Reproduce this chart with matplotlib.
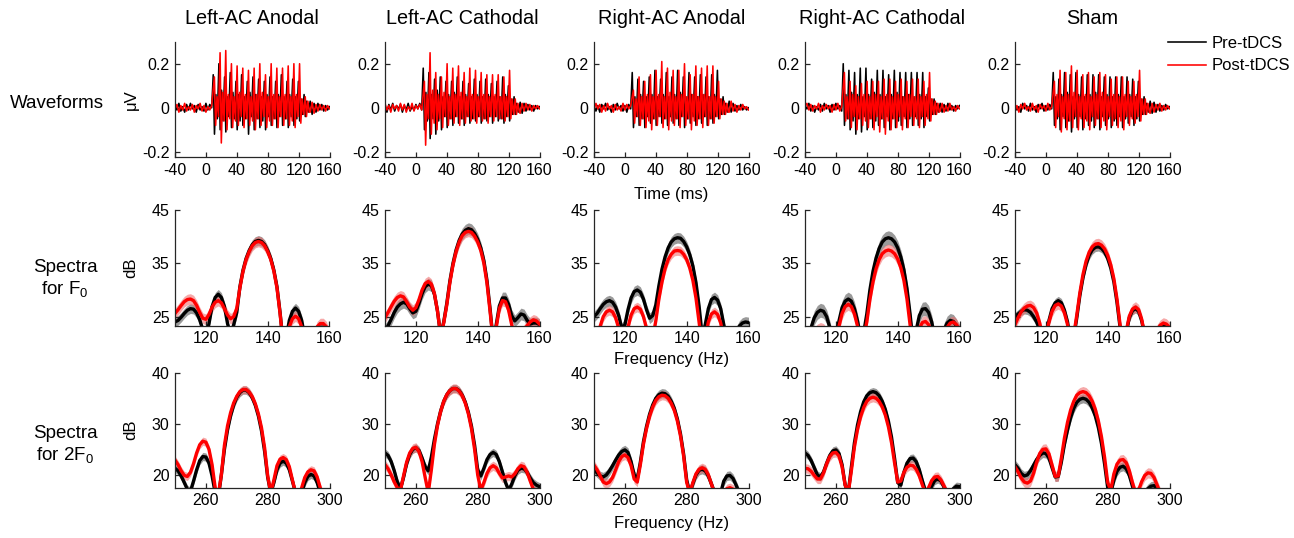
import numpy as np
import matplotlib
matplotlib.use('Agg')
import matplotlib.pyplot as plt

plt.rcParams['font.family'] = ['Liberation Sans', 'DejaVu Sans']
plt.rcParams['axes.unicode_minus'] = False
plt.rcParams['mathtext.fontset'] = 'custom'
plt.rcParams['mathtext.rm'] = 'Liberation Sans'
plt.rcParams['mathtext.it'] = 'Liberation Sans:italic'

conditions = ['Left-AC Anodal', 'Left-AC Cathodal', 'Right-AC Anodal',
              'Right-AC Cathodal', 'Sham']
row_labels = ['Waveforms', 'Spectra\nfor F$_\\mathrm{0}$', 'Spectra\nfor 2F$_\\mathrm{0}$']
legend_labels = ['Pre-tDCS', 'Post-tDCS']

# ---------------- waveform data (µV) ----------------
wave_cycle_ms = 7.35
wave_onset_pre_ms = 9.5
wave_onset_post_ms = 11.0
wave_vertex_offsets_ms = [0.0, 1.6, 3.4, 5.3]
wave_base_on_t = np.arange(-40, 9, 2.5)
wave_base_off_t = np.arange(135, 161, 2.5)

wave_pre_spike = [
    [0.15, 0.20, 0.14, 0.16, 0.12, 0.15, 0.12, 0.14, 0.13, 0.12, 0.14, 0.12, 0.15, 0.12, 0.13, 0.12, 0.06],
    [0.18, 0.16, 0.13, 0.14, 0.12, 0.12, 0.14, 0.12, 0.11, 0.13, 0.12, 0.13, 0.11, 0.12, 0.14, 0.10, 0.05],
    [0.16, 0.13, 0.12, 0.14, 0.17, 0.13, 0.16, 0.14, 0.17, 0.14, 0.16, 0.14, 0.15, 0.14, 0.15, 0.17, 0.05],
    [0.20, 0.17, 0.16, 0.18, 0.18, 0.13, 0.17, 0.17, 0.15, 0.17, 0.16, 0.16, 0.16, 0.16, 0.16, 0.09, 0.04],
    [0.16, 0.13, 0.16, 0.15, 0.16, 0.14, 0.15, 0.15, 0.15, 0.14, 0.14, 0.14, 0.14, 0.14, 0.13, 0.12, 0.05],
]
wave_pre_trough = [
    [-0.12, -0.10, -0.11, -0.09, -0.10, -0.08, -0.12, -0.10, -0.09, -0.10, -0.08, -0.09, -0.08, -0.09, -0.08, -0.06, -0.04],
    [-0.10, -0.14, -0.12, -0.10, -0.09, -0.08, -0.07, -0.08, -0.07, -0.06, -0.07, -0.06, -0.07, -0.06, -0.07, -0.06, -0.03],
    [-0.09, -0.08, -0.09, -0.07, -0.08, -0.07, -0.08, -0.07, -0.08, -0.09, -0.07, -0.08, -0.07, -0.08, -0.07, -0.05, -0.03],
    [-0.08, -0.10, -0.12, -0.11, -0.10, -0.09, -0.08, -0.09, -0.10, -0.09, -0.08, -0.09, -0.08, -0.08, -0.09, -0.06, -0.03],
    [-0.08, -0.10, -0.09, -0.11, -0.09, -0.10, -0.08, -0.09, -0.10, -0.08, -0.09, -0.08, -0.09, -0.07, -0.08, -0.06, -0.03],
]
wave_pre_bump = [
    [0.06, 0.08, 0.05, 0.07, 0.06, 0.05, 0.07, 0.06, 0.05, 0.06, 0.05, 0.06, 0.05, 0.06, 0.05, 0.04, 0.03],
    [0.07, 0.06, 0.08, 0.05, 0.06, 0.07, 0.05, 0.06, 0.05, 0.06, 0.05, 0.06, 0.05, 0.05, 0.06, 0.04, 0.02],
    [0.05, 0.06, 0.05, 0.06, 0.05, 0.06, 0.05, 0.06, 0.07, 0.05, 0.06, 0.05, 0.06, 0.05, 0.06, 0.04, 0.02],
    [0.06, 0.07, 0.06, 0.05, 0.06, 0.07, 0.06, 0.05, 0.06, 0.07, 0.05, 0.06, 0.05, 0.06, 0.05, 0.04, 0.02],
    [0.05, 0.06, 0.07, 0.05, 0.06, 0.05, 0.06, 0.07, 0.05, 0.06, 0.05, 0.06, 0.05, 0.06, 0.05, 0.04, 0.02],
]
wave_pre_dip = [
    [-0.05, -0.06, -0.04, -0.05, -0.06, -0.05, -0.04, -0.05, -0.06, -0.04, -0.05, -0.04, -0.05, -0.04, -0.05, -0.03, -0.02],
    [-0.06, -0.05, -0.06, -0.04, -0.05, -0.04, -0.05, -0.04, -0.05, -0.04, -0.05, -0.04, -0.04, -0.05, -0.04, -0.03, -0.02],
    [-0.04, -0.05, -0.04, -0.05, -0.04, -0.05, -0.04, -0.05, -0.04, -0.05, -0.04, -0.05, -0.04, -0.05, -0.04, -0.03, -0.02],
    [-0.05, -0.06, -0.05, -0.04, -0.05, -0.06, -0.05, -0.04, -0.05, -0.06, -0.04, -0.05, -0.04, -0.05, -0.04, -0.03, -0.02],
    [-0.05, -0.04, -0.06, -0.05, -0.04, -0.05, -0.06, -0.05, -0.04, -0.05, -0.06, -0.04, -0.05, -0.04, -0.05, -0.03, -0.02],
]
wave_post_spike = [
    [0.14, 0.25, 0.26, 0.20, 0.19, 0.18, 0.17, 0.18, 0.20, 0.15, 0.20, 0.18, 0.18, 0.19, 0.20, 0.20, 0.05],
    [0.12, 0.25, 0.16, 0.14, 0.20, 0.18, 0.19, 0.16, 0.18, 0.17, 0.16, 0.15, 0.15, 0.15, 0.14, 0.17, 0.04],
    [0.08, 0.14, 0.12, 0.15, 0.17, 0.21, 0.18, 0.17, 0.17, 0.20, 0.15, 0.19, 0.18, 0.19, 0.19, 0.12, 0.03],
    [0.16, 0.12, 0.10, 0.11, 0.12, 0.12, 0.12, 0.13, 0.13, 0.12, 0.13, 0.12, 0.13, 0.13, 0.12, 0.16, 0.03],
    [0.12, 0.17, 0.16, 0.19, 0.17, 0.15, 0.16, 0.14, 0.16, 0.15, 0.13, 0.14, 0.14, 0.12, 0.12, 0.17, 0.04],
]
wave_post_trough = [
    [-0.08, -0.16, -0.10, -0.09, -0.08, -0.09, -0.08, -0.10, -0.08, -0.09, -0.08, -0.09, -0.08, -0.08, -0.09, -0.07, -0.04],
    [-0.17, -0.12, -0.10, -0.09, -0.08, -0.07, -0.08, -0.07, -0.06, -0.07, -0.06, -0.07, -0.06, -0.05, -0.06, -0.05, -0.03],
    [-0.07, -0.08, -0.09, -0.10, -0.08, -0.09, -0.10, -0.08, -0.09, -0.08, -0.10, -0.08, -0.09, -0.08, -0.07, -0.05, -0.03],
    [-0.06, -0.09, -0.10, -0.08, -0.09, -0.10, -0.11, -0.12, -0.10, -0.09, -0.10, -0.09, -0.08, -0.09, -0.08, -0.06, -0.03],
    [-0.09, -0.11, -0.10, -0.09, -0.10, -0.09, -0.10, -0.08, -0.09, -0.10, -0.08, -0.09, -0.10, -0.08, -0.07, -0.06, -0.03],
]
wave_post_bump = [
    [0.05, 0.07, 0.06, 0.05, 0.07, 0.06, 0.05, 0.06, 0.07, 0.05, 0.06, 0.05, 0.06, 0.05, 0.06, 0.04, 0.03],
    [0.06, 0.08, 0.06, 0.07, 0.05, 0.06, 0.07, 0.05, 0.06, 0.05, 0.06, 0.05, 0.06, 0.05, 0.05, 0.04, 0.02],
    [0.04, 0.05, 0.06, 0.05, 0.06, 0.05, 0.07, 0.05, 0.06, 0.05, 0.06, 0.05, 0.06, 0.05, 0.05, 0.04, 0.02],
    [0.05, 0.06, 0.05, 0.06, 0.05, 0.06, 0.05, 0.06, 0.05, 0.06, 0.05, 0.06, 0.05, 0.05, 0.06, 0.04, 0.02],
    [0.06, 0.05, 0.06, 0.07, 0.05, 0.06, 0.05, 0.06, 0.07, 0.05, 0.06, 0.05, 0.06, 0.05, 0.06, 0.04, 0.02],
]
wave_post_dip = [
    [-0.04, -0.06, -0.05, -0.06, -0.04, -0.05, -0.06, -0.05, -0.04, -0.06, -0.05, -0.04, -0.05, -0.06, -0.04, -0.03, -0.02],
    [-0.05, -0.07, -0.05, -0.04, -0.05, -0.04, -0.05, -0.04, -0.05, -0.04, -0.05, -0.04, -0.04, -0.05, -0.04, -0.03, -0.02],
    [-0.04, -0.05, -0.06, -0.05, -0.04, -0.05, -0.06, -0.05, -0.04, -0.05, -0.06, -0.05, -0.04, -0.05, -0.04, -0.03, -0.02],
    [-0.05, -0.04, -0.05, -0.06, -0.05, -0.04, -0.05, -0.06, -0.05, -0.04, -0.05, -0.04, -0.05, -0.04, -0.05, -0.03, -0.02],
    [-0.04, -0.05, -0.06, -0.04, -0.05, -0.06, -0.04, -0.05, -0.06, -0.04, -0.05, -0.06, -0.04, -0.05, -0.04, -0.03, -0.02],
]
wave_pre_base_on = [
    [0.010, -0.010, 0.020, -0.015, 0.005, -0.020, 0.015, -0.010, 0.020, -0.005, 0.010, -0.020, 0.015, -0.010, 0.005, -0.015, 0.020, -0.010, 0.015, 0.000],
    [0.000, -0.020, 0.015, -0.010, 0.020, -0.015, 0.010, -0.005, 0.015, -0.020, 0.010, -0.010, 0.020, -0.015, 0.005, -0.010, 0.015, -0.005, 0.020, -0.010],
    [0.005, -0.015, 0.010, -0.020, 0.015, -0.005, 0.020, -0.010, 0.005, -0.020, 0.015, -0.010, 0.020, -0.005, 0.010, -0.015, 0.010, -0.020, 0.015, -0.005],
    [0.010, -0.005, 0.020, -0.015, 0.010, -0.020, 0.005, -0.010, 0.015, -0.015, 0.020, -0.005, 0.010, -0.020, 0.015, -0.010, 0.020, -0.005, 0.010, -0.015],
    [0.015, -0.010, 0.005, -0.020, 0.020, -0.005, 0.010, -0.015, 0.020, -0.010, 0.005, -0.020, 0.015, -0.005, 0.020, -0.015, 0.010, -0.010, 0.015, -0.005],
]
wave_post_base_on = [
    [-0.005, 0.015, -0.020, 0.010, -0.010, 0.020, -0.015, 0.005, -0.010, 0.015, -0.020, 0.010, -0.005, 0.020, -0.015, 0.010, -0.020, 0.005, -0.010, 0.010],
    [0.020, -0.010, 0.010, -0.020, 0.015, -0.005, 0.010, -0.015, 0.020, -0.010, 0.015, -0.020, 0.005, -0.010, 0.020, -0.015, 0.010, -0.005, 0.015, -0.010],
    [-0.010, 0.020, -0.005, 0.015, -0.020, 0.010, -0.015, 0.020, -0.005, 0.010, -0.020, 0.015, -0.010, 0.005, -0.015, 0.020, -0.010, 0.015, -0.005, 0.010],
    [0.005, 0.020, -0.010, 0.015, -0.015, 0.010, -0.005, 0.020, -0.020, 0.010, -0.010, 0.015, -0.005, 0.010, -0.020, 0.015, -0.010, 0.020, -0.015, 0.005],
    [-0.015, 0.010, -0.020, 0.015, -0.005, 0.020, -0.010, 0.005, -0.015, 0.020, -0.010, 0.010, -0.020, 0.015, -0.005, 0.010, -0.015, 0.020, -0.010, 0.005],
]
wave_pre_base_off = [
    [0.030, -0.030, 0.020, -0.020, 0.020, -0.010, 0.015, -0.015, 0.010, -0.010, 0.005],
    [0.025, -0.025, 0.020, -0.015, 0.015, -0.010, 0.010, -0.015, 0.010, -0.005, 0.005],
    [0.030, -0.020, 0.020, -0.015, 0.010, -0.010, 0.015, -0.010, 0.005, -0.010, 0.000],
    [0.020, -0.020, 0.015, -0.015, 0.020, -0.010, 0.010, -0.015, 0.010, -0.005, 0.010],
    [0.030, -0.025, 0.025, -0.020, 0.015, -0.015, 0.010, -0.010, 0.015, -0.005, 0.005],
]
wave_post_base_off = [
    [-0.020, 0.025, -0.025, 0.015, -0.015, 0.015, -0.010, 0.010, -0.015, 0.010, -0.005],
    [-0.025, 0.020, -0.015, 0.020, -0.010, 0.015, -0.015, 0.010, -0.005, 0.010, -0.005],
    [-0.020, 0.030, -0.015, 0.015, -0.020, 0.010, -0.010, 0.015, -0.005, 0.005, -0.010],
    [-0.015, 0.020, -0.020, 0.010, -0.015, 0.020, -0.010, 0.005, -0.015, 0.010, -0.005],
    [-0.025, 0.020, -0.020, 0.015, -0.010, 0.020, -0.015, 0.010, -0.010, 0.010, -0.005],
]

# ---------------- spectra for F0 (dB) ----------------
f0_freq = np.arange(110, 161, 1)
f0_pre_db = [
    [24.0, 24.3, 24.9, 25.6, 26.2, 26.5, 26.4, 25.7, 24.4, 22.5, 21.0, 23.7, 26.9, 28.6, 29.2, 28.6, 26.9, 23.7, 21.5, 23.5,
     25.8, 30.6, 33.7, 35.9, 37.4, 38.5, 39.1, 39.3, 39.1, 38.5, 37.4, 35.9, 33.7, 30.6, 25.8, 20.0, 21.1, 24.3, 26.0, 26.6,
     26.0, 24.3, 21.1, 18.0, 17.5, 20.7, 22.4, 23.0, 23.0, 22.4, 20.7],
    [22.5, 23.3, 24.5, 25.8, 26.8, 27.4, 27.7, 27.4, 26.5, 25.7, 26.0, 27.5, 29.3, 30.6, 31.1, 30.8, 29.2, 26.0, 21.5, 24.0,
     27.5, 31.7, 35.0, 37.5, 39.3, 40.5, 41.2, 41.5, 41.3, 40.6, 39.5, 37.9, 35.5, 31.8, 26.5, 20.5, 23.5, 27.0, 28.5, 28.5,
     27.3, 25.2, 24.2, 24.8, 25.5, 25.3, 24.3, 23.6, 23.8, 23.8, 23.5],
    [25.0, 25.6, 26.5, 27.3, 27.8, 28.0, 27.7, 26.8, 25.2, 22.8, 23.5, 26.3, 28.5, 29.7, 30.0, 29.6, 28.3, 26.3, 24.7, 25.2,
     27.2, 30.8, 33.9, 36.2, 37.9, 39.0, 39.6, 39.8, 39.7, 39.1, 38.1, 36.6, 34.5, 31.4, 27.0, 21.5, 23.5, 26.5, 28.2, 28.6,
     28.1, 26.5, 23.5, 20.5, 19.5, 20.5, 22.0, 23.2, 23.8, 24.0, 23.9],
    [20.0, 20.5, 23.0, 24.8, 25.8, 26.2, 26.0, 25.0, 23.0, 20.5, 21.0, 24.2, 26.7, 27.9, 28.3, 27.9, 26.5, 24.2, 21.0, 22.0,
     25.5, 30.0, 33.5, 36.0, 37.8, 39.0, 39.6, 39.8, 39.6, 39.0, 37.9, 36.2, 33.8, 30.3, 25.5, 20.0, 22.5, 25.2, 26.4, 26.5,
     25.8, 24.0, 21.0, 19.5, 20.5, 22.5, 23.8, 24.3, 24.1, 23.3, 22.0],
    [25.0, 25.5, 26.0, 26.3, 26.2, 25.8, 25.0, 24.0, 22.5, 20.5, 21.5, 24.3, 26.5, 27.6, 28.0, 27.6, 26.2, 24.0, 20.5, 21.0,
     24.8, 29.0, 32.3, 34.8, 36.5, 37.5, 38.0, 38.1, 37.8, 37.1, 35.9, 34.1, 31.5, 27.7, 23.0, 19.0, 22.0, 24.8, 26.1, 26.5,
     26.0, 24.2, 21.5, 19.5, 19.0, 20.5, 22.0, 23.0, 23.3, 23.0, 22.3],
]
f0_post_db = [
    [25.6, 26.3, 27.1, 27.8, 28.2, 28.3, 28.0, 27.1, 25.8, 24.7, 24.5, 25.4, 26.8, 27.7, 28.0, 27.6, 26.5, 25.3, 24.6, 25.0,
     26.6, 30.4, 33.5, 35.7, 37.2, 38.3, 38.9, 39.1, 38.9, 38.3, 37.2, 35.7, 33.5, 30.4, 25.6, 20.0, 20.5, 23.1, 24.6, 25.1,
     24.6, 23.1, 20.5, 18.0, 18.0, 21.5, 23.1, 23.7, 23.7, 23.1, 21.5],
    [24.8, 25.8, 26.9, 27.9, 28.6, 28.9, 28.7, 27.8, 26.8, 26.2, 26.7, 28.2, 30.0, 31.2, 31.6, 31.1, 29.3, 26.0, 21.5, 23.8,
     27.2, 31.4, 34.7, 37.2, 39.0, 40.2, 40.8, 41.0, 40.8, 40.1, 39.0, 37.4, 35.0, 31.3, 26.0, 20.5, 23.0, 26.5, 28.0, 27.8,
     26.2, 23.5, 21.0, 20.5, 21.5, 22.5, 23.3, 24.0, 24.4, 24.2, 23.6],
    [21.0, 21.0, 23.2, 25.0, 25.9, 26.2, 25.9, 24.8, 22.8, 20.5, 20.5, 23.0, 25.3, 26.5, 26.8, 26.4, 25.0, 22.8, 20.5, 21.0,
     24.2, 28.3, 31.5, 34.0, 35.7, 36.7, 37.3, 37.4, 37.3, 36.7, 35.7, 34.1, 31.8, 28.5, 24.0, 19.5, 21.0, 24.0, 25.5, 25.9,
     25.4, 23.8, 21.0, 19.0, 18.5, 19.5, 20.5, 21.5, 22.0, 22.0, 21.8],
    [19.0, 19.0, 20.5, 21.8, 22.5, 22.8, 22.6, 21.8, 20.5, 19.0, 20.0, 23.2, 25.6, 26.9, 27.3, 26.9, 25.5, 23.2, 20.5, 21.0,
     24.0, 28.2, 31.5, 34.0, 35.7, 36.8, 37.3, 37.5, 37.3, 36.8, 35.8, 34.2, 31.8, 28.3, 23.5, 19.0, 20.5, 22.8, 23.9, 24.1,
     23.5, 22.0, 19.5, 18.5, 19.5, 21.5, 23.0, 23.8, 24.0, 23.5, 22.5],
    [23.5, 24.8, 25.9, 26.6, 27.0, 27.1, 26.7, 25.7, 23.8, 21.0, 21.5, 24.0, 26.0, 27.1, 27.4, 27.0, 25.7, 23.5, 20.5, 21.5,
     25.3, 29.5, 32.9, 35.4, 37.1, 38.1, 38.6, 38.7, 38.4, 37.7, 36.5, 34.7, 32.1, 28.3, 23.5, 19.0, 22.3, 25.1, 26.4, 26.8,
     26.3, 24.5, 21.5, 19.5, 19.5, 21.0, 22.5, 23.4, 23.8, 23.6, 23.0],
]
f0_pre_sem = [0.9, 1.1, 1.0, 1.3, 0.8]
f0_post_sem = [1.0, 1.0, 0.9, 1.1, 1.0]

# ---------------- spectra for 2F0 (dB) ----------------
f2_freq = np.arange(250, 301, 1)
f2_pre_db = [
    [21.3, 20.8, 19.8, 18.5, 17.2, 16.8, 18.8, 21.0, 22.8, 23.6, 23.5, 22.3, 19.8, 16.5, 15.5, 20.0, 25.0, 28.8, 31.6, 33.7,
     35.2, 36.1, 36.6, 36.6, 36.1, 35.1, 33.6, 31.5, 28.6, 24.6, 19.5, 16.5, 18.5, 21.0, 22.3, 22.7, 22.3, 21.0, 18.8, 16.5,
     15.5, 16.5, 18.5, 19.7, 20.1, 19.8, 18.5, 16.5, 15.5, 15.5, 15.5],
    [24.3, 23.8, 22.6, 20.8, 18.6, 17.3, 19.5, 22.2, 24.0, 25.0, 25.3, 24.8, 23.3, 21.6, 20.8, 23.5, 27.0, 30.0, 32.5, 34.4,
     35.7, 36.5, 36.9, 36.9, 36.5, 35.6, 34.2, 32.2, 29.5, 25.8, 21.0, 19.8, 21.3, 23.0, 24.0, 24.4, 24.0, 22.6, 20.6, 18.5,
     17.0, 18.2, 19.8, 20.9, 21.3, 21.2, 20.5, 19.4, 18.5, 18.0, 17.7],
    [21.0, 20.4, 19.8, 19.6, 20.0, 20.8, 21.8, 22.9, 23.9, 24.6, 24.9, 24.4, 22.6, 20.0, 19.2, 22.5, 26.5, 29.5, 31.9, 33.7,
     35.0, 35.7, 36.0, 35.9, 35.4, 34.4, 33.0, 30.9, 28.0, 24.1, 19.0, 16.5, 18.3, 20.0, 20.9, 21.1, 20.8, 19.8, 18.2, 16.5,
     15.5, 16.5, 18.8, 19.8, 19.9, 19.3, 18.0, 16.5, 15.5, 15.5, 15.5],
    [24.3, 23.8, 22.8, 21.4, 20.0, 19.6, 20.6, 22.3, 23.8, 24.7, 24.9, 24.2, 22.0, 18.0, 16.5, 21.5, 26.3, 29.8, 32.4, 34.3,
     35.5, 36.1, 36.3, 36.1, 35.5, 34.4, 32.8, 30.5, 27.4, 23.2, 18.5, 18.0, 20.5, 22.3, 23.2, 23.3, 22.6, 21.0, 18.8, 16.8,
     16.5, 17.8, 18.9, 19.2, 18.8, 17.6, 16.5, 16.5, 17.3, 17.8, 17.7],
    [22.0, 21.3, 20.3, 19.8, 20.0, 20.8, 21.9, 23.0, 23.8, 24.3, 24.2, 23.3, 21.4, 19.6, 19.7, 22.5, 26.0, 28.8, 31.2, 33.0,
     34.2, 34.8, 35.0, 34.8, 34.2, 33.1, 31.5, 29.2, 26.1, 22.1, 17.5, 16.5, 19.0, 20.7, 21.5, 21.7, 21.2, 19.9, 17.8, 16.0,
     15.5, 15.5, 16.5, 17.3, 17.8, 17.9, 17.3, 16.2, 15.5, 15.5, 15.5],
]
f2_post_db = [
    [22.9, 22.0, 20.8, 19.9, 19.7, 20.5, 22.2, 24.3, 25.9, 26.6, 26.4, 25.0, 22.0, 17.5, 16.0, 20.0, 25.8, 29.6, 32.2, 34.1,
     35.4, 36.3, 36.7, 36.7, 36.2, 35.3, 33.9, 31.9, 29.2, 25.3, 19.8, 16.5, 19.0, 21.8, 23.1, 23.4, 23.0, 21.6, 19.0, 16.5,
     15.5, 17.5, 19.5, 20.6, 21.0, 20.8, 19.6, 17.5, 16.0, 15.5, 15.5],
    [22.0, 21.2, 20.0, 18.6, 17.5, 17.0, 19.8, 22.5, 24.3, 25.2, 25.4, 24.6, 22.6, 19.5, 16.5, 21.0, 26.0, 29.7, 32.4, 34.4,
     35.7, 36.5, 36.9, 36.9, 36.4, 35.5, 34.0, 31.9, 29.0, 25.0, 20.0, 17.0, 18.5, 20.3, 21.4, 21.8, 21.4, 20.3, 19.4, 19.6,
     19.8, 19.6, 20.2, 21.2, 21.8, 21.6, 20.5, 18.8, 17.2, 16.5, 16.0],
    [21.9, 21.0, 19.8, 18.6, 18.3, 18.6, 19.5, 21.0, 22.6, 23.6, 23.9, 23.4, 21.8, 19.2, 18.6, 22.0, 26.0, 29.1, 31.5, 33.3,
     34.6, 35.3, 35.6, 35.5, 35.0, 34.0, 32.6, 30.5, 27.6, 23.7, 18.5, 16.5, 18.5, 20.2, 21.1, 21.4, 21.1, 20.0, 18.2, 16.5,
     15.5, 15.5, 16.5, 17.3, 17.5, 17.2, 16.5, 15.5, 15.5, 15.5, 15.5],
    [21.3, 21.2, 20.7, 19.9, 19.2, 19.2, 20.4, 22.2, 23.6, 24.3, 24.4, 23.7, 21.6, 18.0, 16.5, 20.8, 25.5, 28.9, 31.4, 33.2,
     34.4, 35.0, 35.2, 35.0, 34.4, 33.3, 31.7, 29.4, 26.3, 22.3, 18.6, 18.8, 20.5, 21.5, 21.9, 21.8, 21.1, 19.8, 18.0, 16.5,
     17.5, 18.9, 19.6, 19.7, 19.0, 17.8, 16.5, 16.0, 16.0, 16.0, 16.0],
    [21.6, 20.6, 19.4, 18.6, 18.4, 18.8, 20.3, 22.5, 24.2, 25.0, 25.1, 24.1, 21.9, 19.7, 19.8, 23.3, 27.2, 30.3, 32.7, 34.4,
     35.6, 36.1, 36.3, 36.1, 35.5, 34.4, 32.8, 30.5, 27.4, 23.4, 18.5, 17.0, 20.2, 22.1, 22.9, 23.0, 22.4, 20.8, 18.5, 16.5,
     17.0, 18.7, 19.9, 20.4, 20.3, 19.5, 18.0, 16.5, 15.5, 15.5, 15.5],
]
f2_pre_sem = [0.8, 0.8, 0.9, 0.8, 0.9]
f2_post_sem = [0.8, 0.9, 0.9, 0.9, 1.0]

# ---------------- styling ----------------
PRE_COLOR = 'black'
POST_COLOR = '#ff0000'
PRE_BAND = '#9a9a9a'
POST_BAND = '#f07070'
AX_COLOR = '#262626'

W, H = 1294, 538
fig = plt.figure(figsize=(W / 100, H / 100), dpi=100)

col_left_px = [175, 385, 594, 805, 1015]
ax_w_px = 154.5
row_top_px = [41.7, 210.0, 372.7]
row_bot_px = [157.3, 325.7, 487.7]


def make_ax(r, c):
    l = col_left_px[c] / W
    b = 1 - row_bot_px[r] / H
    h = (row_bot_px[r] - row_top_px[r]) / H
    ax = fig.add_axes([l, b, ax_w_px / W, h])
    for s in ['top', 'right']:
        ax.spines[s].set_visible(False)
    for s in ['left', 'bottom']:
        ax.spines[s].set_color(AX_COLOR)
        ax.spines[s].set_linewidth(0.9)
    ax.tick_params(direction='in', length=3.5, width=0.9, colors=AX_COLOR,
                   labelcolor='black', labelsize=11.5, pad=4)
    return ax


def wave_series(onset, spikes, troughs, bumps, dips, base_on, base_off):
    t = list(wave_base_on_t)
    v = list(base_on)
    for k in range(len(spikes)):
        t0 = onset + k * wave_cycle_ms
        t += [t0 + o for o in wave_vertex_offsets_ms]
        v += [spikes[k], troughs[k], bumps[k], dips[k]]
    t += list(wave_base_off_t)
    v += list(base_off)
    return np.array(t), np.array(v)


handles = None
for c in range(5):
    # waveforms
    ax = make_ax(0, c)
    tp, vp = wave_series(wave_onset_pre_ms, wave_pre_spike[c], wave_pre_trough[c],
                         wave_pre_bump[c], wave_pre_dip[c], wave_pre_base_on[c], wave_pre_base_off[c])
    tq, vq = wave_series(wave_onset_post_ms, wave_post_spike[c], wave_post_trough[c],
                         wave_post_bump[c], wave_post_dip[c], wave_post_base_on[c], wave_post_base_off[c])
    h1, = ax.plot(tp, vp, color=PRE_COLOR, lw=1.15)
    h2, = ax.plot(tq, vq, color=POST_COLOR, lw=1.15)
    if handles is None:
        handles = [h1, h2]
    ax.set_xlim(-40, 160)
    ax.set_ylim(-0.225, 0.3)
    ax.set_xticks([-40, 0, 40, 80, 120, 160])
    ax.set_yticks([-0.2, 0, 0.2])
    ax.set_yticklabels(['-0.2', '0', '0.2'])
    fig.text((col_left_px[c] + ax_w_px / 2) / W, 1 - 18 / H, conditions[c],
             ha='center', va='center', fontsize=14.3)
    if c == 0:
        ax.set_ylabel('μV', fontsize=12)
        ax.yaxis.set_label_coords(-0.235, 0.5)
    if c == 2:
        ax.set_xlabel('Time (ms)', fontsize=12)
        ax.xaxis.set_label_coords(0.5, -0.255)

    # spectra F0
    ax = make_ax(1, c)
    pre = np.array(f0_pre_db[c]); post = np.array(f0_post_db[c])
    ax.fill_between(f0_freq, pre - f0_pre_sem[c], pre + f0_pre_sem[c], color=PRE_BAND, lw=0)
    ax.plot(f0_freq, pre, color=PRE_COLOR, lw=2.4)
    ax.fill_between(f0_freq, post - f0_post_sem[c], post + f0_post_sem[c], color=POST_BAND, alpha=0.6, lw=0)
    ax.plot(f0_freq, post, color=POST_COLOR, lw=2.4)
    ax.set_xlim(110, 160)
    ax.set_ylim(23.3, 45)
    ax.set_xticks([120, 140, 160])
    ax.set_yticks([25, 35, 45])
    if c == 0:
        ax.set_ylabel('dB', fontsize=12)
        ax.yaxis.set_label_coords(-0.235, 0.5)
    if c == 2:
        ax.set_xlabel('Frequency (Hz)', fontsize=12)
        ax.xaxis.set_label_coords(0.5, -0.23)

    # spectra 2F0
    ax = make_ax(2, c)
    pre = np.array(f2_pre_db[c]); post = np.array(f2_post_db[c])
    ax.fill_between(f2_freq, pre - f2_pre_sem[c], pre + f2_pre_sem[c], color=PRE_BAND, lw=0)
    ax.plot(f2_freq, pre, color=PRE_COLOR, lw=2.4)
    ax.fill_between(f2_freq, post - f2_post_sem[c], post + f2_post_sem[c], color=POST_BAND, alpha=0.6, lw=0)
    ax.plot(f2_freq, post, color=POST_COLOR, lw=2.4)
    ax.set_xlim(250, 300)
    ax.set_ylim(17.5, 40)
    ax.set_xticks([260, 280, 300])
    ax.set_yticks([20, 30, 40])
    if c == 0:
        ax.set_ylabel('dB', fontsize=12)
        ax.yaxis.set_label_coords(-0.235, 0.5)
    if c == 2:
        ax.set_xlabel('Frequency (Hz)', fontsize=12)
        ax.xaxis.set_label_coords(0.5, -0.25)

# row labels
fig.text(57 / W, 1 - 103 / H, row_labels[0], ha='center', va='center', fontsize=13.5)
fig.text(65 / W, 1 - 279 / H, row_labels[1], ha='center', va='center', fontsize=13.5, linespacing=1.2)
fig.text(65 / W, 1 - 445 / H, row_labels[2], ha='center', va='center', fontsize=13.5, linespacing=1.2)

fig.legend(handles, legend_labels, loc='upper left', bbox_to_anchor=(1168 / W, 1 - 36 / H),
           frameon=False, fontsize=12, handlelength=2.3, handletextpad=0.3,
           labelspacing=0.45, borderaxespad=0, borderpad=0)

fig.savefig('out.png', dpi=100)
